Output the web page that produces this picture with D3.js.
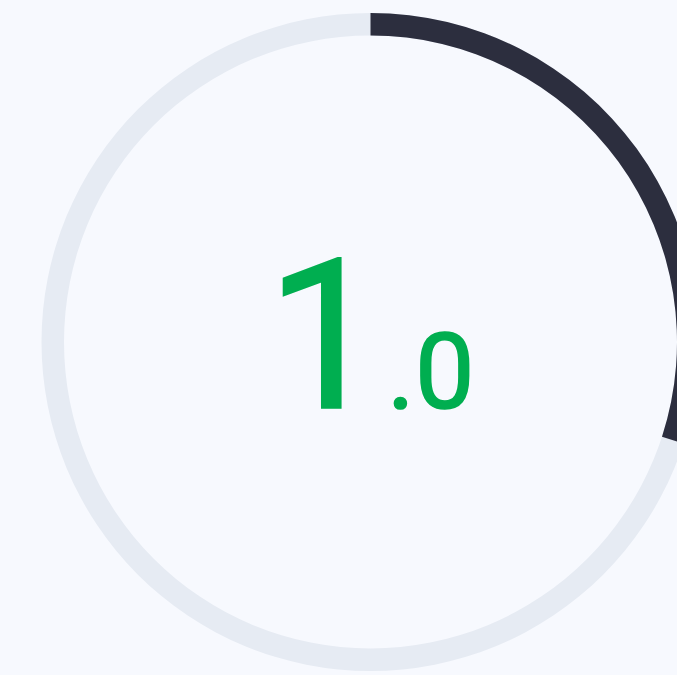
<!DOCTYPE html>
<html>
<head>
<meta charset="utf-8">
<script src="https://cdn.jsdelivr.net/npm/d3@7"></script>
<style>
  html, body { margin: 0; padding: 0; background: #f7f9fe; overflow: hidden; }
  svg { display: block; }
</style>
</head>
<body>
<svg></svg>
<script>
// gauge data
let scoreInt = ["1"]
let scoreDec = [".0"]
let progress = [0.3]      // fraction of ring filled
let ringMax = [1]

let width = 677
let height = 675
let cx = 370.5
let cy = 342
let outerR = 329
let ringW = 22.5

let svg = d3.select("svg")
    .attr("width", width)
    .attr("height", height)

svg.append("rect")
    .attr("width", width)
    .attr("height", height)
    .attr("fill", "#f7f9fe")

let angleScale = d3.scaleLinear()
    .domain([0, ringMax[0]])
    .range([0, 2 * Math.PI])

let arc = d3.arc()
    .innerRadius(outerR - ringW)
    .outerRadius(outerR)
    .startAngle(0)

let g = svg.append("g")
    .attr("transform", "translate(" + cx + "," + cy + ")")

// track
g.append("path")
    .attr("d", arc({ endAngle: angleScale(ringMax[0]) }))
    .attr("fill", "#e6ebf3")

// progress
g.selectAll("path.bar")
    .data(progress)
    .enter()
    .append("path")
    .attr("class", "bar")
    .attr("d", (d) => arc({ endAngle: angleScale(d) }))
    .attr("fill", "#2c2e3e")

let label = svg.append("text")
    .attr("y", 408)
    .attr("fill", "#00ae50")
    .attr("stroke", "#00ae50")
    .attr("stroke-width", 1.6)
    .attr("font-family", "Roboto")

label.append("tspan")
    .attr("x", 266)
    .attr("font-size", 210)
    .text(scoreInt[0])

label.append("tspan")
    .attr("x", 387)
    .attr("font-size", 106)
    .text(scoreDec[0])
</script>
</body>
</html>
